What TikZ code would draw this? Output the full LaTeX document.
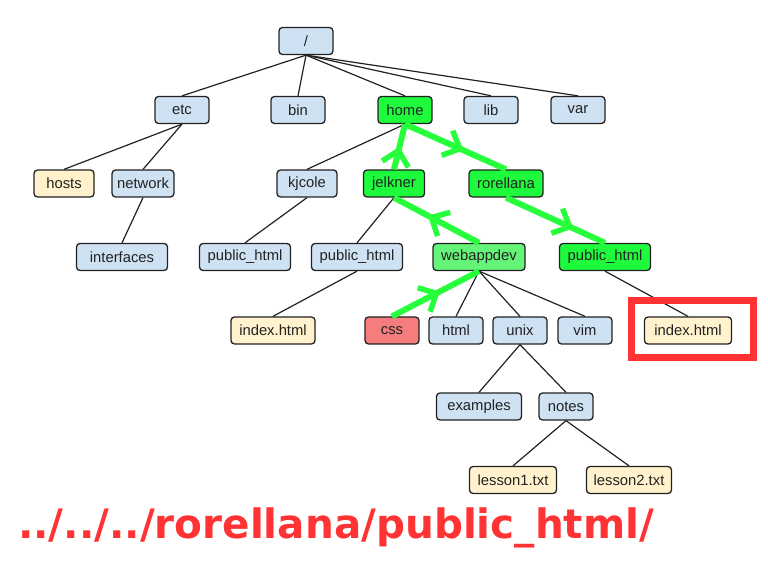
\documentclass[tikz,border=0pt]{standalone}
\usepackage{fontspec}
\setmainfont{Liberation Sans}
\newfontfamily\pathfont{DejaVu Sans}
\usepackage{tikz}
\definecolor{edgecolor}{RGB}{34,34,34}
\definecolor{boxblue}{RGB}{207,226,243}
\definecolor{boxyellow}{RGB}{255,242,204}
\definecolor{pathgreen}{RGB}{30,250,60}
\definecolor{workgreen}{RGB}{100,245,120}
\definecolor{cssred}{RGB}{245,125,125}
\definecolor{routegreen}{RGB}{40,255,60}
\definecolor{hilitered}{RGB}{255,51,51}
\usetikzlibrary{arrows.meta,positioning,fit,decorations.markings}
\tikzset{
	dir/.style={
		rectangle,
		rounded corners=3.5pt,
		line width=1.3pt,
		draw=edgecolor,
		fill=boxblue,
		text=edgecolor,
		minimum height=27pt,
		minimum width=54pt,
		inner xsep=5pt,
		font=\fontsize{14.8}{16}\selectfont
	},
	file/.style={
		dir,
		fill=boxyellow
	},
	pathdir/.style={
		dir,
		fill=pathgreen
	},
	workdir/.style={
		dir,
		fill=workgreen
	},
	cssdir/.style={
		dir,
		fill=cssred
	},
	edge/.style={
		draw=edgecolor,
		line width=1.2pt
	},
	route/.style={
		draw=routegreen,
		line width=6pt,
		postaction={decorate},
		decoration={markings,
			mark=at position #1 with {\arrow[line cap=round,line join=round]{Straight Barb[length=14pt,width=27pt,line width=5.5pt]}}}
	},
	route/.default=0.55,
	hilite/.style={
		rectangle,
		draw=hilitered,
		line width=7pt,
		inner xsep=17pt,
		inner ysep=14.5pt
	},
}

\begin{document}
\begin{tikzpicture}[node distance = 73.5pt]
		\useasboundingbox (0,0) rectangle (768pt,576pt);
		\node (root) [dir] at (306pt,535pt) {/};
		\node (etc) [dir, below of = root, xshift = -124pt, yshift = 4.5pt] {etc};
		\node (bin) [dir, below of = root, xshift = -8pt, yshift = 4.5pt] {bin};
		\node (home) [pathdir, below of = root, xshift = 99pt, yshift = 4.5pt] {home};
		\node (lib) [dir, below of = root, xshift = 185pt, yshift = 4.5pt] {lib};
		\node (var) [dir, below of = root, xshift = 272pt, yshift = 4.5pt] {var};
		\node (hosts) [file, below of = etc, xshift = -118pt, minimum width = 60pt] {hosts};
		\node (network) [dir, below of = etc, xshift = -39pt, minimum width = 60pt] {network};
		\node (kjcole) [dir, below of = home, xshift = -98pt, minimum width = 60pt] {kjcole};
		\node (jelkner) [pathdir, below of = home, xshift = -11pt, minimum width = 61pt] {jelkner};
		\node (rorellana) [pathdir, below of = home, xshift = 101pt, minimum width = 74pt] {rorellana};
		\node (interfaces) [dir, below of = network, xshift = -21pt, minimum width = 91pt] {interfaces};
		\node (kjhtml) [dir, below of = kjcole, xshift = -62pt, minimum width = 91pt] {public\_html};
		\node (jehtml) [dir, below of = jelkner, xshift = -37pt, minimum width = 91pt] {public\_html};
		\node (webappdev) [workdir, below of = jelkner, xshift = 85pt, minimum width = 92pt] {webappdev};
		\node (rohtml) [pathdir, below of = rorellana, xshift = 99pt, minimum width = 91pt] {public\_html};
		\node (jeindex) [file, below of = jehtml, xshift = -84pt, minimum width = 84pt] {index.html};
		\node (css) [cssdir, below of = webappdev, xshift = -87pt] {css};
		\node (html) [dir, below of = webappdev, xshift = -23pt] {html};
		\node (unix) [dir, below of = webappdev, xshift = 41pt] {unix};
		\node (vim) [dir, below of = webappdev, xshift = 106pt] {vim};
		\node (roindex) [file, below of = rohtml, xshift = 83pt, minimum width = 87pt] {index.html};
		\node (examples) [dir, below of = unix, xshift = -41pt, yshift = -2.5pt, minimum width = 85pt] {examples};
		\node (notes) [dir, below of = unix, xshift = 46pt, yshift = -2.5pt] {notes};
		\node (lesson1) [file, below of = notes, xshift = -53pt, minimum width = 87pt] {lesson1.txt};
		\node (lesson2) [file, below of = notes, xshift = 63pt, minimum width = 85pt] {lesson2.txt};
		\draw [edge] (root.south) -- (etc.north);
		\draw [edge] (root.south) -- (bin.north);
		\draw [edge] (root.south) -- (home.north);
		\draw [edge] (root.south) -- (lib.north);
		\draw [edge] (root.south) -- (var.north);
		\draw [edge] (etc.south) -- (hosts.north);
		\draw [edge] (etc.south) -- (network.north);
		\draw [edge] (network.south) -- (interfaces.north);
		\draw [edge] (home.south) -- (kjcole.north);
		\draw [edge] (home.south) -- (jelkner.north);
		\draw [edge] (home.south) -- (rorellana.north);
		\draw [edge] (kjcole.south) -- (kjhtml.north);
		\draw [edge] (jelkner.south) -- (jehtml.north);
		\draw [edge] (jelkner.south) -- (webappdev.north);
		\draw [edge] (rorellana.south) -- (rohtml.north);
		\draw [edge] (jehtml.south) -- (jeindex.north);
		\draw [edge] (webappdev.south) -- (css.north);
		\draw [edge] (webappdev.south) -- (html.north);
		\draw [edge] (webappdev.south) -- (unix.north);
		\draw [edge] (webappdev.south) -- (vim.north);
		\draw [edge] (rohtml.south) -- (roindex.north);
		\draw [edge] (unix.south) -- (examples.north);
		\draw [edge] (unix.south) -- (notes.north);
		\draw [edge] (notes.south) -- (lesson1.north);
		\draw [edge] (notes.south) -- (lesson2.north);
		\draw [route] (css.north) -- (webappdev.south);
		\draw [route=0.6] (webappdev.north) -- (jelkner.south);
		\draw [route=0.5] (jelkner.north) -- (home.south);
		\draw [route=0.58] (home.south) -- (rorellana.north);
		\draw [route=0.68] (rorellana.south) -- (rohtml.north);
		\node (focus) [hilite, fit = (roindex), xshift = 4.5pt, yshift = 1.5pt] {};
		\node (relpath) [anchor = base west, inner sep = 0pt, text = hilitered, font = \pathfont\bfseries\fontsize{40.5}{45}\selectfont] at (18pt,38pt) {../../../rorellana/public\_html/};
\end{tikzpicture}
\end{document}
